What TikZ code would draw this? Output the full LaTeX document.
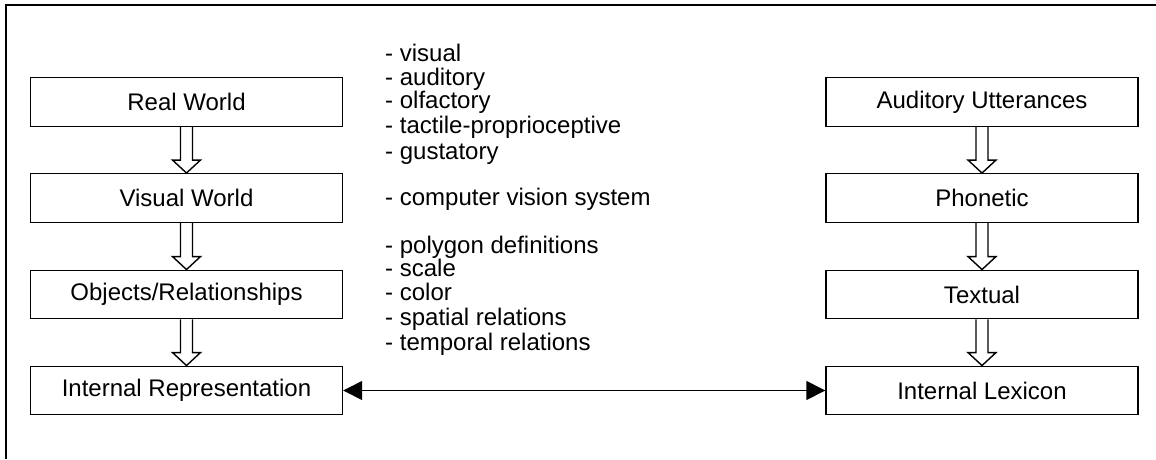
\documentclass[tikz,border=0pt]{standalone}
\usepackage{fontspec}
\setmainfont{Liberation Sans}
\usetikzlibrary{arrows.meta,calc}
\newcommand\hollowarrow[2]{%
  \draw[hollow] ($(#1.south)+(-6,0)$) -- ($(#2.north)+(-6,-13)$) -- ($(#2.north)+(-14,-13)$)
    -- (#2.north) -- ($(#2.north)+(14,-13)$) -- ($(#2.north)+(6,-13)$) -- ($(#1.south)+(6,0)$);}
\begin{document}
\begin{tikzpicture}[x=1pt,y=-1pt,
  box/.style={draw, line width=1.4pt, minimum width=312pt, minimum height=48.5pt, inner sep=0pt,
    font=\fontsize{24}{28}\selectfont},
  note/.style={anchor=base west, inner sep=0pt, font=\fontsize{24}{28}\selectfont},
  hollow/.style={draw, line width=1.4pt, line join=miter},
  link/.style={line width=1.4pt, {Triangle[length=19pt,width=19pt]}-{Triangle[length=19pt,width=19pt]}}
]
\useasboundingbox (0,0) rectangle (1156,459);
\draw[line width=2pt] (6,459) -- (6,5) -- (1156,5);

% left column
\node[box] (rw) at (186.5,102) {Real World};
\node[box] (vw) at (186.5,198) {Visual World};
\node[box] (or) at (186.5,294.5) {Objects/Relationships};
\node[box] (ir) at (186.5,390.5) {Internal Representation};

% right column
\node[box] (au) at (982,102) {Auditory Utterances};
\node[box] (ph) at (982,198) {Phonetic};
\node[box] (tx) at (982,294.5) {Textual};
\node[box] (il) at (982,390.5) {Internal Lexicon};

\hollowarrow{rw}{vw}
\hollowarrow{vw}{or}
\hollowarrow{or}{ir}
\hollowarrow{au}{ph}
\hollowarrow{ph}{tx}
\hollowarrow{tx}{il}

\draw[link] (ir.east) -- (il.west);

% notes
\node[note] (n1) at (385,61) {- visual};
\node[note] (n2) at (385,85) {- auditory};
\node[note] (n3) at (385,108) {- olfactory};
\node[note] (n4) at (385,133) {- tactile-proprioceptive};
\node[note] (n5) at (385,159) {- gustatory};
\node[note] (n6) at (385,205) {- computer vision system};
\node[note] (n7) at (385,253) {- polygon definitions};
\node[note] (n8) at (385,276) {- scale};
\node[note] (n9) at (385,300) {- color};
\node[note] (n10) at (385,325) {- spatial relations};
\node[note] (n11) at (385,350) {- temporal relations};
\end{tikzpicture}
\end{document}
